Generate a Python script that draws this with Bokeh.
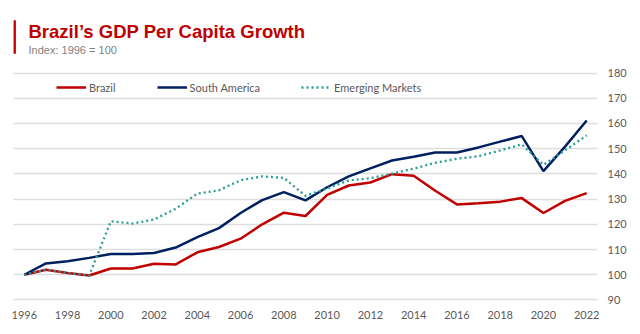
from bokeh.plotting import figure
from bokeh.models import (Range1d, FixedTicker, Legend, LegendItem, Label, BoxAnnotation)
from bokeh.embed import file_html
from bokeh.resources import INLINE

years = list(range(1996, 2023))
brazil = [100, 102.0, 100.7, 99.7, 102.5, 102.5, 104.4, 104.1, 108.9, 111.0, 114.3, 120.0, 124.6,
          123.3, 131.7, 135.4, 136.6, 139.9, 139.3, 133.3, 127.9, 128.4, 129.0, 130.4, 124.5, 129.3, 132.4]
south_america = [100, 104.5, 105.4, 106.7, 108.2, 108.2, 108.6, 110.8, 114.9, 118.5, 124.5, 129.6, 132.8,
                 129.5, 134.7, 139.0, 142.2, 145.3, 146.8, 148.5, 148.5, 150.5, 152.8, 155.0, 141.1, 150.8, 161.2]
emerging = [100, 102.0, 100.7, 99.7, 121.2, 120.3, 121.9, 126.2, 132.2, 133.5, 137.5, 139.0, 138.4,
            131.3, 134.2, 137.4, 138.3, 140.1, 142.1, 144.4, 146.0, 147.0, 149.3, 151.7, 143.6, 149.3, 155.3]
x_ticks = list(range(1996, 2023, 2))
y_ticks = list(range(90, 181, 10))

RED = "#C00000"
NAVY = "#002060"
TEAL = "#2A9D99"
GRAY = "#595959"
FONT = "Lato"

# frame spans from the canvas top down to the x axis; only 90..180 carry ticks
PX_PER_UNIT = 232 / 92.0
Y0 = 89.0
Y_TOP = Y0 + 302 / PX_PER_UNIT
X0 = 1995.5
PX_PER_YEAR = 584 / 27.0


def ydat(py):
    return Y0 + (302 - py) / PX_PER_UNIT


def xdat(px):
    return X0 + (px - 13) / PX_PER_YEAR


p = figure(width=640, height=334, output_backend="svg", toolbar_location=None,
           x_range=Range1d(X0, 2022.5), y_range=Range1d(Y0, Y_TOP),
           y_axis_location="right", min_border_left=13, min_border_right=43,
           min_border_top=0, min_border_bottom=32)
p.outline_line_color = None
p.background_fill_color = "white"
p.border_fill_color = "white"

p.xgrid.grid_line_color = None
p.ygrid.grid_line_color = "#DDDDDD"
p.ygrid.grid_line_width = 1.6

p.yaxis.ticker = FixedTicker(ticks=y_ticks)
p.xaxis.ticker = FixedTicker(ticks=x_ticks)
for ax in (p.xaxis[0], p.yaxis[0]):
    ax.axis_line_color = None
    ax.major_tick_line_color = None
    ax.minor_tick_line_color = None
    ax.major_label_text_font = FONT
    ax.major_label_text_font_size = "11px"
    ax.major_label_text_color = GRAY
p.yaxis.major_label_standoff = 4
p.xaxis.major_label_standoff = 2

r_br = p.line(years, brazil, line_color=RED, line_width=2.5)
r_sa = p.line(years, south_america, line_color=NAVY, line_width=2.5)
r_em = p.line(years, emerging, line_color=TEAL, line_width=2.3, line_dash="2 3")

legend = Legend(items=[LegendItem(label="Brazil", renderers=[r_br]),
                       LegendItem(label="South America", renderers=[r_sa]),
                       LegendItem(label="Emerging Markets", renderers=[r_em])],
                orientation="horizontal", location=(43, 205),
                padding=0, margin=0, spacing=41, label_standoff=3,
                glyph_width=30, glyph_height=20, label_height=20,
                label_text_font=FONT, label_text_font_size="11px",
                label_text_color=GRAY, border_line_color=None,
                background_fill_alpha=0)
p.add_layout(legend, "center")

title = Label(x=xdat(28), y=ydat(30.7),
              text="Brazil\u2019s GDP Per Capita Growth", text_font="Liberation Sans",
              text_font_style="bold", text_font_size="18.5px", text_color=RED,
              text_baseline="alphabetic")
sub = Label(x=xdat(28), y=ydat(49.2),
            text="Index: 1996 = 100", text_font="Liberation Sans",
            text_font_size="11px", text_color="#7F7F7F", text_baseline="alphabetic")
bar = BoxAnnotation(left=xdat(12.7), right=xdat(15.4), bottom=ydat(53.3), top=ydat(19.7),
                    fill_color=RED, fill_alpha=1, line_color=None)
p.add_layout(bar)
p.add_layout(title)
p.add_layout(sub)

open("out.html", "w").write(file_html(p, INLINE))
